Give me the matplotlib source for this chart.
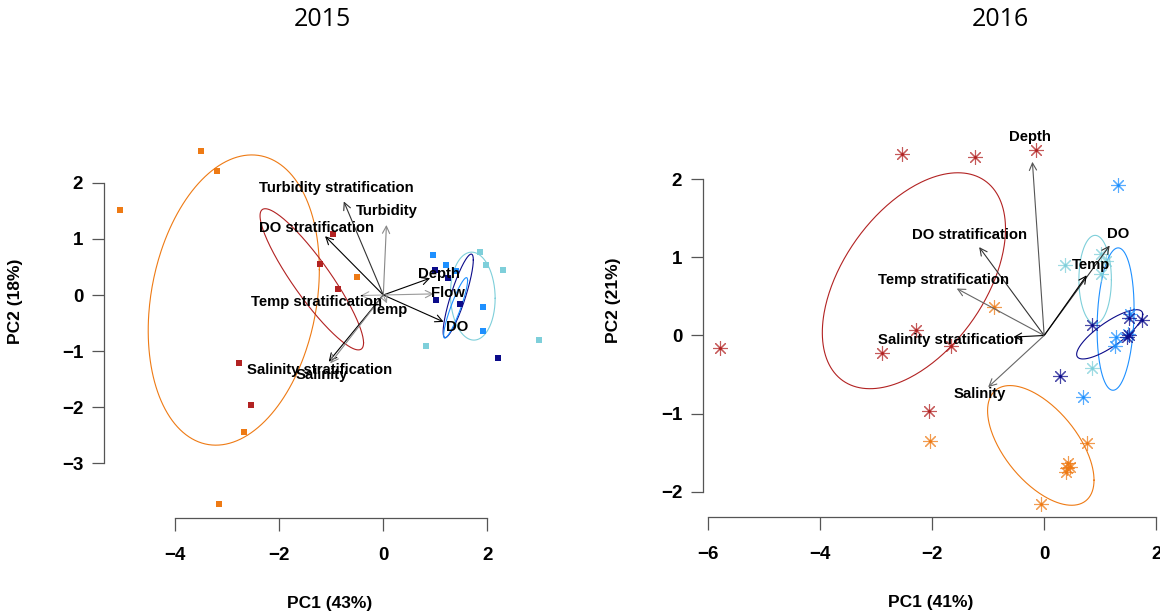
import numpy as np
import matplotlib
matplotlib.use('Agg')
import matplotlib.pyplot as plt

# ---------------- data ----------------
group_colors = {'orange': '#EE7A14', 'red': '#B22222', 'cyan': '#7ECFDA',
                'dodger': '#1E90FF', 'navy': '#0B0B8A'}

# 2015 scores
x2015 = [-3.51, -3.19, -5.07, -0.50, -2.67, -3.15,
         -0.97, -1.22, -0.88, -2.78, -2.55,
         0.95, 1.21, 1.40, 1.91, 1.91,
         1.00, 1.02, 1.48, 2.20, 1.25,
         1.85, 1.97, 2.30, 0.82, 3.00]
y2015 = [2.57, 2.21, 1.52, 0.32, -2.44, -3.73,
         1.09, 0.56, 0.10, -1.22, -1.96,
         0.71, 0.54, 0.42, -0.22, -0.65,
         0.45, -0.09, -0.16, -1.12, 0.30,
         0.76, 0.54, 0.45, -0.91, -0.80]
g2015 = ['orange'] * 6 + ['red'] * 5 + ['dodger'] * 5 + ['navy'] * 5 + ['cyan'] * 5

# 2016 scores
x2016 = [-2.54, -1.23, -0.14, -5.79, -2.28, -2.89, -1.67, -2.06,
         -0.89, -2.04, 0.77, 0.43, 0.46, 0.39, 0.41, -0.05,
         0.38, 1.02, 1.10, 1.02, 0.86,
         1.32, 0.69, 1.28, 1.26, 1.50, 1.53,
         0.29, 0.85, 1.52, 1.74, 1.52, 1.48]
y2016 = [2.32, 2.28, 2.37, -0.16, 0.07, -0.22, -0.14, -0.97,
         0.37, -1.35, -1.38, -1.63, -1.68, -1.74, -1.70, -2.15,
         0.90, 1.04, 0.95, 0.79, -0.41,
         1.93, -0.79, -0.02, -0.13, 0.02, 0.28,
         -0.52, 0.14, 0.23, 0.20, 0.00, -0.02]
g2016 = ['red'] * 8 + ['orange'] * 8 + ['cyan'] * 5 + ['dodger'] * 6 + ['navy'] * 6

# ellipses: group, centre x, centre y, half-extent x, half-extent y, correlation
ell2015 = [('orange', -2.875, -0.09, 1.645, 2.59, 0.21),
           ('red', -1.375, 0.28, 0.995, 1.26, -0.90),
           ('cyan', 1.72, -0.02, 0.43, 0.785, -0.05),
           ('navy', 1.44, -0.015, 0.29, 0.745, 0.86),
           ('dodger', 1.39, -0.23, 0.23, 0.54, 0.90)]
ell2016 = [('red', -2.325, 0.70, 1.635, 1.38, 0.48),
           ('orange', -0.06, -1.405, 0.95, 0.765, -0.58),
           ('cyan', 0.91, 0.715, 0.29, 0.565, 0.0),
           ('dodger', 1.275, 0.21, 0.33, 0.91, 0.14),
           ('navy', 1.17, 0.015, 0.59, 0.315, 0.81)]

# loadings (arrows)
vars2015 = ['Turbidity stratification', 'Turbidity', 'DO stratification', 'Depth', 'Flow',
            'DO', 'Temp', 'Temp stratification', 'Salinity stratification', 'Salinity']
tipx2015 = [-0.76, 0.06, -1.12, 0.90, 0.97, 1.16, 0.07, -0.44, -1.05, -1.02]
tipy2015 = [1.67, 1.25, 1.05, 0.30, 0.02, -0.48, -0.15, -0.01, -1.19, -1.22]
labx2015 = [-0.90, 0.07, -1.29, 1.07, 1.24, 1.42, 0.10, -1.29, -1.22, -1.18]
laby2015 = [1.91, 1.50, 1.20, 0.37, 0.03, -0.57, -0.27, -0.13, -1.34, -1.42]
acol2015 = ['#333333', '#888888', '#000000', '#000000', '#999999',
            '#000000', '#999999', '#aaaaaa', '#000000', '#888888']

vars2016 = ['Depth', 'DO', 'Temp', 'DO stratification', 'Temp stratification',
            'Salinity stratification', 'Salinity']
tipx2016 = [-0.21, 1.17, 0.76, -1.16, -1.56, -0.55, -1.00]
tipy2016 = [2.22, 1.15, 0.77, 1.13, 0.60, -0.02, -0.66]
labx2016 = [-0.26, 1.32, 0.83, -1.33, -1.80, -1.67, -1.15]
laby2016 = [2.54, 1.30, 0.90, 1.28, 0.71, -0.06, -0.75]
acol2016 = ['#555555', '#333333', '#000000', '#333333', '#666666', '#000000', '#666666']

titles = ['2015', '2016']
xlabels = ['PC1 (43%)', 'PC1 (41%)']
ylabels = ['PC2 (18%)', 'PC2 (21%)']
xticks = [[-4, -2, 0, 2], [-6, -4, -2, 0, 2]]
yticks = [[-3, -2, -1, 0, 1, 2], [-2, -1, 0, 1, 2]]

# ---------------- figure ----------------
W, H = 1160, 614
fig = plt.figure(figsize=(W / 100, H / 100), dpi=100)
FONT = ['Liberation Sans', 'DejaVu Sans']


def px_axes(l, r, t, b):
    return fig.add_axes([l / W, 1 - b / H, (r - l) / W, (b - t) / H])


ax1 = px_axes(104, 556, 137, 518)
ax2 = px_axes(703, 1159, 136, 517)
ax1.set_xlim(-5.37, 3.32)
ax1.set_ylim(-3.98, 2.82)
ax2.set_xlim(-6.09, 2.05)
ax2.set_ylim(-2.32, 2.55)


def draw_ellipses(ax, ells):
    t = np.linspace(0, 2 * np.pi, 300)
    for g, cx, cy, hx, hy, r in ells:
        phi = np.arccos(r)
        ax.plot(cx + hx * np.cos(t), cy + hy * np.cos(t + phi),
                color=group_colors[g], lw=0.8, zorder=2)


def draw_arrows(ax, names, tx, ty, lx, ly, cols):
    for n, a, b, c, d, col in zip(names, tx, ty, lx, ly, cols):
        ax.annotate('', xy=(a, b), xytext=(0, 0),
                    arrowprops=dict(arrowstyle='->', color=col, lw=0.8,
                                    shrinkA=0, shrinkB=0, mutation_scale=13),
                    zorder=3)
    for n, a, b, c, d, col in zip(names, tx, ty, lx, ly, cols):
        ax.text(c, d, n, ha='center', va='center', fontsize=10.7,
                fontweight='bold', family=FONT, color='black', zorder=4)


# 2015 points
for g in group_colors:
    xs = [x for x, gg in zip(x2015, g2015) if gg == g]
    ys = [y for y, gg in zip(y2015, g2015) if gg == g]
    ax1.plot(xs, ys, 's', color=group_colors[g], ms=4, mew=0, zorder=3)
draw_ellipses(ax1, ell2015)
draw_arrows(ax1, vars2015, tipx2015, tipy2015, labx2015, laby2015, acol2015)

# 2016 points
for g in group_colors:
    xs = [x for x, gg in zip(x2016, g2016) if gg == g]
    ys = [y for y, gg in zip(y2016, g2016) if gg == g]
    ax2.plot(xs, ys, linestyle='none', marker=(8, 2, 0), color=group_colors[g],
             ms=10.5, mew=0.8, alpha=0.75, zorder=3)
    ax2.plot(xs, ys, 'o', color=group_colors[g], ms=2.2, mew=0, zorder=3)
draw_ellipses(ax2, ell2016)
draw_arrows(ax2, vars2016, tipx2016, tipy2016, labx2016, laby2016, acol2016)

for i, ax in enumerate([ax1, ax2]):
    for s in ['top', 'right']:
        ax.spines[s].set_visible(False)
    for s in ['left', 'bottom']:
        ax.spines[s].set_color('#555555')
        ax.spines[s].set_linewidth(0.9)
    ax.spines['left'].set_bounds(min(yticks[i]), max(yticks[i]))
    ax.spines['bottom'].set_bounds(min(xticks[i]), max(xticks[i]))
    ax.set_xticks(xticks[i])
    ax.set_yticks(yticks[i])
    ax.set_xticklabels(['\u2212%d' % -v if v < 0 else '%d' % v for v in xticks[i]])
    ax.set_yticklabels(['\u2212%d' % -v if v < 0 else '%d' % v for v in yticks[i]])
    ax.tick_params(axis='both', direction='out', length=9, width=0.9,
                   color='#555555', labelsize=13.5)
    ax.tick_params(axis='x', pad=12)
    ax.tick_params(axis='y', pad=6)
    for lab in ax.get_xticklabels() + ax.get_yticklabels():
        lab.set_fontweight('bold')
        lab.set_family(FONT)
    ax.set_xlabel(xlabels[i], fontsize=12.5, fontweight='bold', family=FONT)
    ax.set_ylabel(ylabels[i], fontsize=12.5, fontweight='bold', family=FONT)
    ax.xaxis.set_label_coords(0.5, -0.205)
    ax.yaxis.set_label_coords(-0.18, 0.57)
    ax.patch.set_visible(False)

fig.text(322 / W, 1 - 20 / H, titles[0], ha='center', va='center',
         fontsize=18, family=['Open Sans', 'DejaVu Sans'])
fig.text(1000 / W, 1 - 20 / H, titles[1], ha='center', va='center',
         fontsize=18, family=['Open Sans', 'DejaVu Sans'])

fig.savefig('out.png', dpi=100)
